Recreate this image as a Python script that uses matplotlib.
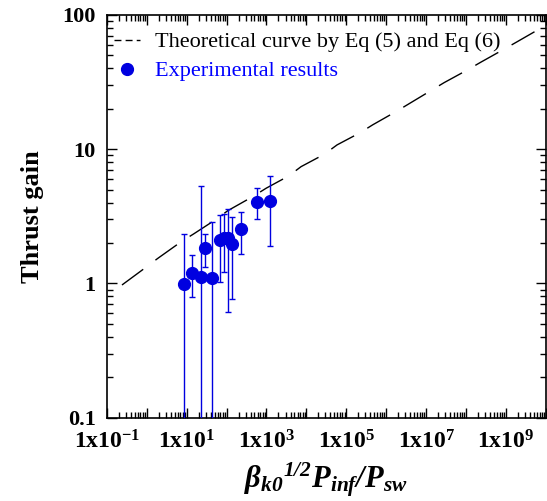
import numpy as np
import matplotlib
matplotlib.use('Agg')
import matplotlib.pyplot as plt
from matplotlib.lines import Line2D
from matplotlib.ticker import FixedLocator, FuncFormatter, LogLocator, NullFormatter

plt.rcParams['font.family'] = ['Liberation Serif', 'DejaVu Serif']
plt.rcParams['mathtext.fontset'] = 'custom'
plt.rcParams['mathtext.rm'] = 'Liberation Serif'
plt.rcParams['mathtext.it'] = 'Liberation Serif:italic'
plt.rcParams['mathtext.bf'] = 'Liberation Serif:bold'
plt.rcParams['mathtext.bfit'] = 'Liberation Serif:italic:bold'

# theoretical curve (Eq 5 & 6)
theory_x = [0.241, 0.891, 1.92, 7.37, 15.0, 55.3, 108, 454, 983, 3610, 7370,
            28200, 58600, 224000, 455000, 1.75e6, 2.82e7, 1.08e8, 2.33e8,
            8.91e8, 1.81e9, 6.68e9]
theory_y = [0.974, 1.298, 1.541, 2.049, 2.338, 3.009, 3.487, 4.435, 5.122,
            6.324, 7.418, 9.178, 10.77, 13.30, 15.18, 19.06, 31.35, 38.98,
            44.49, 55.62, 62.70, 78.38]

# experimental points, error bar top / bottom (0.01 = bar runs off the axis)
exp_x = [8.56, 13.57, 23.3, 28.2, 43.9, 69.6, 85.6, 107.8, 135.7, 223.9, 585.6, 1259]
exp_y = [0.99, 1.204, 1.124, 1.829, 1.093, 2.110, 2.194, 2.172, 1.970, 2.534, 4.028, 4.119]
exp_hi = [2.33, 1.631, 5.33, 2.326, 2.858, 3.239, 3.295, 3.591, 3.147, 3.393, 5.122, 6.324]
exp_lo = [0.01, 0.797, 0.01, 1.334, 0.01, 1.031, 1.224, 0.610, 0.770, 1.659, 3.008, 1.904]

BLUE = '#0000e0'

fig = plt.figure(figsize=(5.47, 5.01), dpi=100)
ax = fig.add_axes([0.1951, 0.1663, 0.8031, 0.8038])

ax.plot(theory_x, theory_y, color='black', lw=1.0, dashes=(19, 11), zorder=2)

y = np.array(exp_y)
yerr = [y - np.array(exp_lo), np.array(exp_hi) - y]
ax.errorbar(exp_x, exp_y, yerr=yerr, fmt='o', color=BLUE, ms=8.5,
            ecolor=BLUE, elinewidth=1.0, capsize=2.5, capthick=1.0, zorder=3)

ax.set_xscale('log')
ax.set_yscale('log')
ax.set_xlim(1e-1, 1e10)
ax.set_ylim(0.1, 100)

ax.xaxis.set_major_locator(FixedLocator([10.0 ** k for k in range(-1, 11)]))


def xfmt(v, pos):
    k = int(round(np.log10(v)))
    if k % 2 == 0:
        return ''
    return r'$\mathbf{1x10}^{\mathbf{%d}}$' % k


ax.xaxis.set_major_formatter(FuncFormatter(xfmt))
ax.xaxis.set_minor_locator(LogLocator(base=10, subs=np.arange(2, 10), numticks=50))
ax.xaxis.set_minor_formatter(NullFormatter())

ax.yaxis.set_major_locator(FixedLocator([0.1, 1, 10, 100]))
ax.yaxis.set_major_formatter(FuncFormatter(lambda v, p: {0.1: '0.1', 1: '1', 10: '10', 100: '100'}.get(round(v, 1), '')))
ax.yaxis.set_minor_locator(LogLocator(base=10, subs=np.arange(2, 10), numticks=50))
ax.yaxis.set_minor_formatter(NullFormatter())

ax.tick_params(which='both', direction='in', top=True, right=True, width=1.0)
ax.tick_params(which='major', length=7.5)
ax.tick_params(which='minor', length=4.5)
ax.tick_params(axis='x', which='major', labelsize=17, pad=9)
ax.tick_params(axis='y', which='major', labelsize=16, pad=8)
for lab in ax.get_yticklabels():
    lab.set_fontweight('bold')
for s in ax.spines.values():
    s.set_linewidth(1.2)

ax.set_ylabel('Thrust gain', fontsize=19, fontweight='bold', labelpad=13)
ax.set_xlabel(r'$\mathbfit{\beta_{k0}{}^{1/2}P_{inf}/P_{sw}}$', fontsize=22, labelpad=5)

handles = [Line2D([], [], color='black', lw=1.0, dashes=(5, 3)),
           Line2D([], [], color=BLUE, marker='o', ls='none', ms=8.5)]
leg = ax.legend(handles, ['Theoretical curve by Eq (5) and Eq (6)', 'Experimental results'],
                loc='upper left', bbox_to_anchor=(0.0166, 0.958), frameon=False,
                fontsize=16, handlelength=1.17, handletextpad=0.67,
                borderaxespad=0, borderpad=0, labelspacing=0.38)
leg.get_texts()[1].set_color('blue')

fig.savefig('out.png', dpi=100)
